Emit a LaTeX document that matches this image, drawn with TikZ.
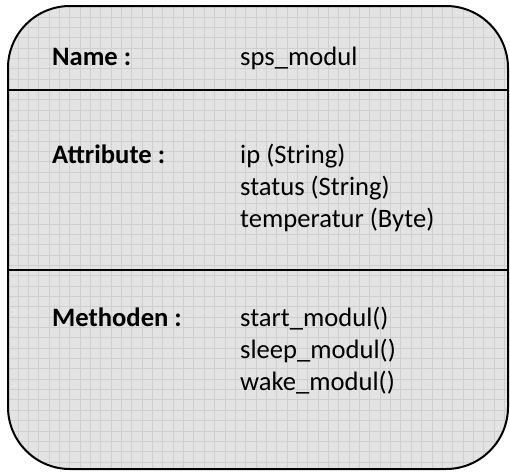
\documentclass[tikz,border=0pt]{standalone}
\usepackage{fontspec}
\setmainfont{Carlito}
\definecolor{paper}{RGB}{227,227,227}
\definecolor{rule}{RGB}{207,207,207}
\newcommand{\Rbox}{[rounded corners=62pt] (8,6) rectangle (508,469)}
\begin{document}
\fontsize{26.6}{32}\selectfont
\begin{tikzpicture}[x=1pt,y=-1pt,
  head/.style={anchor=base west,inner sep=0pt,font=\bfseries},
  entry/.style={anchor=base west,inner sep=0pt},
  sep/.style={line width=2pt}]
  \useasboundingbox (0,0) rectangle (510,471);
  % grid paper inside the box
  \begin{scope}
    \clip \Rbox;
    \fill[paper] (8,6) rectangle (508,469);
    \foreach\gx in{7.5,17.85,...,510}{\draw[rule,line width=0.7pt] (\gx,6) -- (\gx,469);}
    \foreach\gy in{6.5,16.85,...,470}{\draw[rule,line width=0.7pt] (8,\gy) -- (508,\gy);}
  \end{scope}
  \draw[line width=2pt] \Rbox;
  \coordinate (l1) at (8,90);  \coordinate (r1) at (508,90);
  \coordinate (l2) at (8,270); \coordinate (r2) at (508,270);
  \draw[sep] (l1) -- (r1);
  \draw[sep] (l2) -- (r2);
  % class name
  \node[head] (name) at (52,65) {Name :};
  \node[entry] (cls) at (240,65) {sps\_modul};
  % attributes
  \node[head] (attr) at (52,163) {Attribute :};
  \node[entry] (ip) at (240,163) {ip (String)};
  \node[entry] (status) at (240,195) {status (String)};
  \node[entry] (temp) at (240,227) {temperatur (Byte)};
  % methods
  \node[head] (meth) at (52,326) {Methoden :};
  \node[entry] (start) at (240,326) {start\_modul()};
  \node[entry] (sleep) at (240,358) {sleep\_modul()};
  \node[entry] (wake) at (240,390) {wake\_modul()};
\end{tikzpicture}
\end{document}
